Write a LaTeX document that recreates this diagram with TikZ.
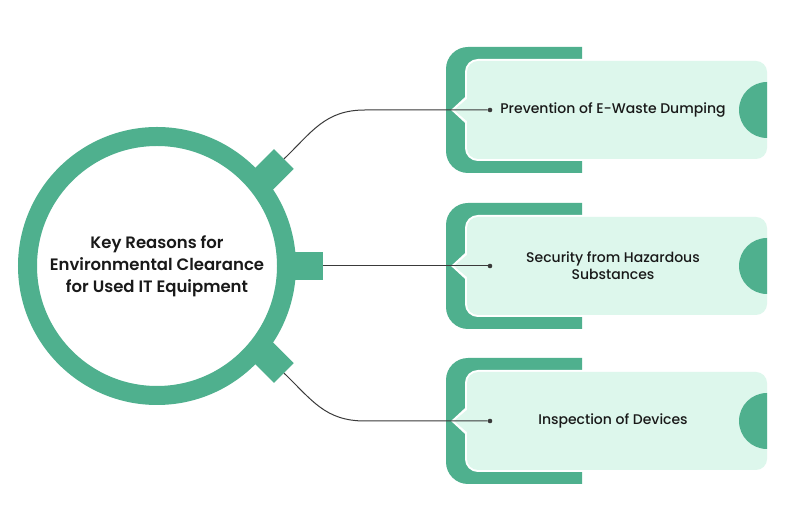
\documentclass[tikz,border=0pt]{standalone}
\usepackage{fontspec}
\setmainfont{Poppins}
\newfontfamily\medf{Poppins Medium}
\newfontfamily\semf{Poppins SemiBold}
\definecolor{gr}{HTML}{4FB08E}
\definecolor{lt}{HTML}{DDF7EC}
\definecolor{ln}{HTML}{3A3A3A}
\tikzset{
  tab/.style={rectangle, fill=gr, inner sep=0pt, minimum width=38pt, minimum height=28pt},
  dotn/.style={circle, fill=ln, inner sep=0pt, minimum size=4.6pt},
  conn/.style={draw=ln, line width=1pt},
  cardtxt/.style={font=\medf\fontsize{14}{17}\selectfont, align=center, text=black!90},
}
\newcommand{\card}[2]{%
  \fill[gr] (582,#1+63) -- (468,#1+63) arc[start angle=90,end angle=180,radius=22] -- (446,#1-41) arc[start angle=180,end angle=270,radius=22] -- (582,#1-63) -- cycle;
  \draw[white, line width=4pt, rounded corners=11] (467,#1-49) rectangle (767,#1+49);
  \draw[white, line width=4pt, line join=miter] (467,#1-12) -- (454,#1) -- (467,#1+12);
  \fill[lt, rounded corners=11] (467,#1-49) rectangle (767,#1+49);
  \fill[lt] (468,#1-12) -- (454,#1) -- (468,#1+12) -- cycle;
  \fill[gr] (767,#1+28) arc[start angle=90,end angle=270,radius=28] -- cycle;
}
\begin{document}
\begin{tikzpicture}[x=1pt,y=1pt]
\useasboundingbox (0,0) rectangle (786,516);
\fill[white] (0,0) rectangle (786,516);
% cards
\card{406}{}
\card{250}{}
\card{95}{}
% tabs
\node[tab, rotate=45] (t1) at (270.4,343.5) {};
\node[tab] (t2) at (304,250) {};
\node[tab, rotate=-45] (t3) at (270.4,156.5) {};
% central ring
\draw[gr, line width=19pt, fill=white] (157,250) circle[radius=129.5];
\node[font=\semf\fontsize{16.5}{22}\selectfont, align=center, text=black!90] (c) at (157,250)
  {Key Reasons for\\Environmental Clearance\\for Used IT Equipment};
% dots
\node[dotn] (d1) at (490,406) {};
\node[dotn] (d2) at (490,250) {};
\node[dotn] (d3) at (490,95) {};
% connectors
\draw[conn] (t1.east) .. controls (312,384) and (325,406) .. (365,406) -- (d1);
\draw[conn] (t2.east) -- (d2);
\draw[conn] (t3.east) .. controls (312,116) and (325,95) .. (365,95) -- (d3);
% texts
\node[cardtxt] (x1) at (613,406) {Prevention of E-Waste Dumping};
\node[cardtxt] (x2) at (613,250) {Security from Hazardous\\Substances};
\node[cardtxt] (x3) at (613,95) {Inspection of Devices};
\end{tikzpicture}
\end{document}
